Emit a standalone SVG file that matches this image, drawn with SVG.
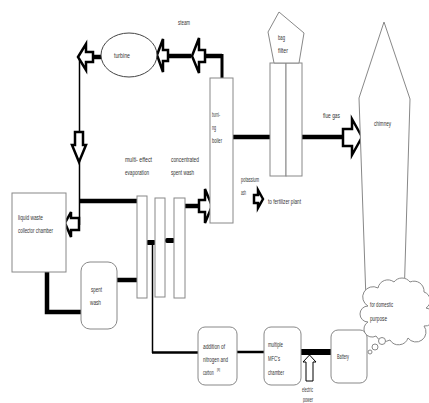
<svg xmlns="http://www.w3.org/2000/svg" width="429" height="403" viewBox="0 0 429 403">
<style>
text{font-family:"Liberation Sans",Arial,sans-serif;font-size:6.5px;fill:#333}
.box{fill:#fff;stroke:#888;stroke-width:1}
.thick{stroke:#000;stroke-width:4.5;fill:none}
.thin{stroke:#000;stroke-width:1.5;fill:none}
.arr{fill:#fff;stroke:#000;stroke-width:2.5;stroke-linejoin:miter}
</style>
<rect width="429" height="403" fill="#fff"/>
<g id="connectors">
<line class="thick" x1="92" y1="57" x2="101" y2="57"/>
<line class="thick" x1="167" y1="56" x2="191" y2="56"/>
<polyline class="thick" points="204,56 222,56"/>
<polyline stroke="#000" stroke-width="3" fill="none" points="222,54 222,78"/>
<line class="thin" x1="79.5" y1="58" x2="79.5" y2="225"/>
<line class="thick" x1="79" y1="201" x2="137" y2="201"/>
<polyline class="thick" points="47,272 47,312 81,312"/>
<line class="thick" x1="117" y1="280" x2="137" y2="280"/>
<line class="thick" x1="185" y1="206" x2="199" y2="206"/>
<line class="thick" x1="233" y1="137" x2="270" y2="137"/>
<line class="thick" x1="302" y1="137" x2="343" y2="137"/>
<rect x="146" y="240" width="10" height="5" rx="2" fill="#000"/>
<rect x="165" y="238" width="10" height="5" rx="2" fill="#000"/>
<line class="thin" x1="152.5" y1="243" x2="152.5" y2="353"/>
<line stroke="#000" stroke-width="2.5" x1="152" y1="352.5" x2="198" y2="352.5"/>
<line stroke="#000" stroke-width="2.5" x1="237" y1="352" x2="264" y2="352"/>
<rect x="301" y="349" width="30" height="6" fill="#000"/>
<polygon class="arr" points="78,57 86,44 86,52 93,52 93,62 86,62 86,70"/>
<polygon class="arr" points="157,55 163,39 163,50 168,50 168,61 163,61 163,72"/>
<polygon class="arr" points="192,56 199,38 199,50 205,50 205,62 199,62 199,73"/>
<polygon class="arr" points="79,162 72,145 75,145 75,132 83,132 83,145 86,145"/>
<polygon class="arr" points="65,223 71,212 71,218 79,218 79,230 71,230 71,237"/>
<polygon class="arr" points="212,206 205,189 205,200 199,200 199,212 205,212 205,223"/>
<polygon class="arr" points="263,199 258,190 258,195 254,195 254,203 258,203 258,208"/>
<polygon class="arr" points="362,137 352,119 352,129 343,129 343,146 352,146 352,155"/>
<polygon fill="#fff" stroke="#000" stroke-width="1" points="309.5,355 316,362 313,362 313,381 306,381 306,362 303,362"/>
</g>
<g id="turbine">
<ellipse cx="129" cy="55" rx="28" ry="22" fill="#fff" stroke="#444" stroke-width="1"/>
<text x="114" y="58" textLength="16" lengthAdjust="spacingAndGlyphs">turbine</text>
</g>
<text x="178" y="25" textLength="12" lengthAdjust="spacingAndGlyphs">steam</text>
<g id="boiler">
<rect class="box" x="210" y="78" width="23" height="145"/>
<text x="212" y="117" textLength="8" lengthAdjust="spacingAndGlyphs">burni-</text>
<text x="212" y="130" textLength="4" lengthAdjust="spacingAndGlyphs">ng</text>
<text x="212" y="143" textLength="10" lengthAdjust="spacingAndGlyphs">boiler</text>
</g>
<g id="bag-filter">
<rect class="box" x="270" y="63" width="16" height="113"/>
<rect class="box" x="286" y="63" width="16" height="113"/>
<polygon class="box" points="279,12 304,33 299,63 274,63 268,32"/>
<text x="278" y="40" textLength="7" lengthAdjust="spacingAndGlyphs">bag</text>
<text x="278" y="53" textLength="10" lengthAdjust="spacingAndGlyphs">filter</text>
</g>
<text x="323" y="118" textLength="17" lengthAdjust="spacingAndGlyphs">flue gas</text>
<g id="chimney">
<polygon class="box" points="384,22 410,99 404,300 366,300 359,98"/>
<text x="374" y="126" textLength="17" lengthAdjust="spacingAndGlyphs">chimney</text>
</g>
<g id="potassium-ash">
<text x="241" y="182" textLength="18" lengthAdjust="spacingAndGlyphs">potassium</text>
<text x="241" y="195" textLength="5" lengthAdjust="spacingAndGlyphs">ash</text>
<text x="268" y="204" textLength="33" lengthAdjust="spacingAndGlyphs">to fertilizer plant</text>
</g>
<g id="evaporator">
<rect class="box" x="137" y="196" width="10" height="102"/>
<rect class="box" x="155" y="198" width="10" height="99"/>
<text x="125" y="162" textLength="27" lengthAdjust="spacingAndGlyphs">multi- effect</text>
<text x="125" y="175" textLength="24" lengthAdjust="spacingAndGlyphs">evaporation</text>
</g>
<g id="concentrated">
<rect class="box" x="174" y="198" width="11" height="100"/>
<text x="171" y="162" textLength="28" lengthAdjust="spacingAndGlyphs">concentrated</text>
<text x="171" y="175" textLength="23" lengthAdjust="spacingAndGlyphs">spent wash</text>
</g>
<g id="collector">
<rect class="box" x="12" y="193" width="54" height="79"/>
<text x="18" y="220" textLength="25" lengthAdjust="spacingAndGlyphs">liquid waste</text>
<text x="18" y="233" textLength="35" lengthAdjust="spacingAndGlyphs">collector chamber</text>
</g>
<g id="spent-wash">
<rect class="box" x="81" y="262" width="36" height="67" rx="9"/>
<text x="91" y="292" textLength="11" lengthAdjust="spacingAndGlyphs">spent</text>
<text x="90" y="305" textLength="11" lengthAdjust="spacingAndGlyphs">wash</text>
</g>
<g id="addition">
<rect class="box" x="198" y="327" width="39" height="58" rx="7"/>
<text x="203" y="349" textLength="22" lengthAdjust="spacingAndGlyphs">addition of</text>
<text x="203" y="362" textLength="25" lengthAdjust="spacingAndGlyphs">nitrogen and</text>
<text transform="translate(203,375) scale(0.54,1)">carbon</text>
<text transform="translate(217,370.5) scale(0.7,1)" style="font-size:4px">[8]</text>
</g>
<g id="mfc">
<rect class="box" x="264" y="327" width="37" height="58" rx="7"/>
<text x="268" y="347" textLength="15" lengthAdjust="spacingAndGlyphs">multiple</text>
<text x="268" y="361" textLength="12" lengthAdjust="spacingAndGlyphs">MFC's</text>
<text x="268" y="375" textLength="16" lengthAdjust="spacingAndGlyphs">chamber</text>
</g>
<g id="electric-power">
<text x="302" y="392" textLength="11" lengthAdjust="spacingAndGlyphs">electric</text>
<text x="303" y="402" textLength="10" lengthAdjust="spacingAndGlyphs">power</text>
</g>
<g id="battery">
<rect class="box" x="331" y="330" width="36" height="53" rx="7"/>
<text x="337" y="359" textLength="12" lengthAdjust="spacingAndGlyphs">Battery</text>
</g>
<g id="domestic">
<path class="box" d="M368,322 a8,8 0 0 1 0,-16 a10,10 0 0 1 10,-18 a10,10 0 0 1 16,-6 a10,10 0 0 1 16,0 a10,10 0 0 1 14,10 a9,9 0 0 1 2,16 a9,9 0 0 1 -2,18 a10,10 0 0 1 -16,12 a10,10 0 0 1 -18,2 a10,10 0 0 1 -14,-4 a8,8 0 0 1 -8,-14 Z"/>
<circle class="box" cx="370" cy="352" r="2"/>
<circle class="box" cx="375" cy="347" r="3"/>
<circle class="box" cx="382" cy="341" r="3.5"/>
<text x="370" y="307" textLength="23" lengthAdjust="spacingAndGlyphs">for domestic</text>
<text x="370" y="321" textLength="17" lengthAdjust="spacingAndGlyphs">purpose</text>
</g>
</svg>
